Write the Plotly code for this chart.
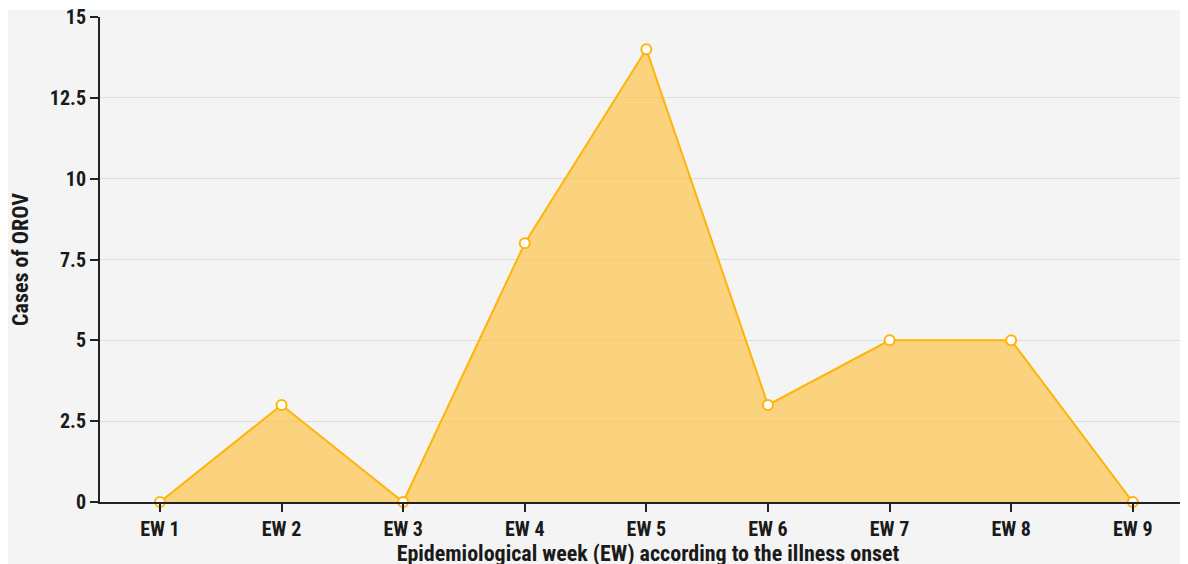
import plotly.graph_objects as go

weeks = ["EW 1", "EW 2", "EW 3", "EW 4", "EW 5", "EW 6", "EW 7", "EW 8", "EW 9"]
cases = [0, 3, 0, 8, 14, 3, 5, 5, 0]
y_ticks = [0, 2.5, 5, 7.5, 10, 12.5, 15]
y_tick_labels = ["0", "2.5", "5", "7.5", "10", "12.5", "15"]

fig = go.Figure()
fig.add_trace(go.Scatter(
    x=weeks, y=cases, mode="lines+markers",
    fill="tozeroy", fillcolor="rgba(255,192,60,0.64)",
    line=dict(color="#FFB40A", width=2),
    marker=dict(size=10, color="white", line=dict(color="#FFB40A", width=2)),
    cliponaxis=False,
))

font_family = "Roboto Condensed, Roboto, sans-serif"
plot_h = 485
fig.update_layout(
    width=1188, height=564,
    paper_bgcolor="white", plot_bgcolor="#f4f4f4",
    margin=dict(l=92, r=0, t=9, b=70),
    showlegend=False,
    font=dict(family=font_family, color="#1a1a1a", size=20),
    shapes=[dict(type="rect", xref="paper", yref="paper",
                 x0=-92/1096, x1=1.01, y0=-1.2, y1=(plot_h+7)/plot_h,
                 fillcolor="#f4f4f4", line=dict(width=0), layer="below")],
)
fig.update_xaxes(
    type="category", range=[-0.493, 8.52], automargin=False,
    showline=True, linecolor="#222", linewidth=2,
    ticks="outside", ticklen=8, tickcolor="#222", tickwidth=2,
    showgrid=False,
    tickfont=dict(family=font_family, size=20, weight="bold"),
    title=dict(text="Epidemiological week (EW) according to the illness onset",
               font=dict(family=font_family, size=22, weight="bold"), standoff=2),
)
fig.update_yaxes(
    range=[0, 15], tickvals=y_ticks, ticktext=y_tick_labels,
    ticklabeloverflow="allow", automargin=False,
    showline=True, linecolor="#222", linewidth=2,
    ticks="outside", ticklen=8, tickcolor="#222", tickwidth=2,
    showgrid=True, gridcolor="#dedede", gridwidth=1, zeroline=False,
    tickfont=dict(family=font_family, size=20, weight="bold"),
    title=dict(text="Cases of OROV",
               font=dict(family=font_family, size=22, weight="bold"), standoff=17),
)

fig.write_html("out.html")
